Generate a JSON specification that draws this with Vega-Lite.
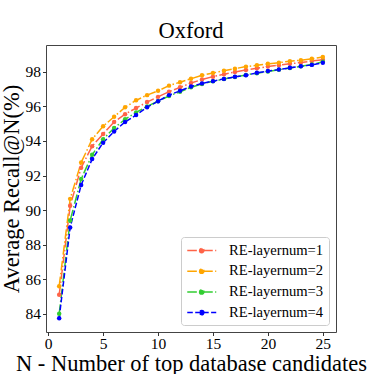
{
  "$schema": "https://vega.github.io/schema/vega-lite/v6.json",
  "width": 290,
  "height": 287,
  "autosize": "none",
  "padding": {"left": 46, "top": 45, "right": 38, "bottom": 42},
  "background": "white",
  "title": {"text": "Oxford", "font": "Liberation Serif", "fontSize": 22.5, "fontWeight": "normal", "color": "black", "baseline": "bottom", "frame": "group", "offset": -20},
  "config": {
    "view": {"stroke": "#444444", "strokeWidth": 1},
    "font": "Liberation Serif",
    "axis": {"grid": false, "domain": false, "labelFont": "Liberation Serif", "labelFontSize": 15.5, "labelColor": "black", "tickColor": "#333333", "tickSize": 3.5, "titleFont": "Liberation Serif", "titleFontSize": 22.5, "titleFontWeight": "normal", "titleColor": "black"}
  },
  "data": {"values": [
    {"N": 1, "RE-layernum=1": 85.1, "RE-layernum=2": 85.6, "RE-layernum=3": 84.0, "RE-layernum=4": 83.75},
    {"N": 2, "RE-layernum=1": 90.25, "RE-layernum=2": 90.65, "RE-layernum=3": 89.4, "RE-layernum=4": 89.0},
    {"N": 3, "RE-layernum=1": 92.45, "RE-layernum=2": 92.75, "RE-layernum=3": 91.8, "RE-layernum=4": 91.45},
    {"N": 4, "RE-layernum=1": 93.7, "RE-layernum=2": 94.1, "RE-layernum=3": 93.2, "RE-layernum=4": 92.95},
    {"N": 5, "RE-layernum=1": 94.4, "RE-layernum=2": 94.85, "RE-layernum=3": 94.1, "RE-layernum=4": 93.9},
    {"N": 6, "RE-layernum=1": 95.1, "RE-layernum=2": 95.4, "RE-layernum=3": 94.75, "RE-layernum=4": 94.55},
    {"N": 7, "RE-layernum=1": 95.55, "RE-layernum=2": 95.95, "RE-layernum=3": 95.25, "RE-layernum=4": 95.1},
    {"N": 8, "RE-layernum=1": 95.9, "RE-layernum=2": 96.35, "RE-layernum=3": 95.65, "RE-layernum=4": 95.5},
    {"N": 9, "RE-layernum=1": 96.25, "RE-layernum=2": 96.65, "RE-layernum=3": 96.0, "RE-layernum=4": 95.95},
    {"N": 10, "RE-layernum=1": 96.55, "RE-layernum=2": 96.9, "RE-layernum=3": 96.3, "RE-layernum=4": 96.3},
    {"N": 11, "RE-layernum=1": 96.85, "RE-layernum=2": 97.2, "RE-layernum=3": 96.6, "RE-layernum=4": 96.65},
    {"N": 12, "RE-layernum=1": 97.1, "RE-layernum=2": 97.4, "RE-layernum=3": 96.85, "RE-layernum=4": 96.9},
    {"N": 13, "RE-layernum=1": 97.35, "RE-layernum=2": 97.6, "RE-layernum=3": 97.1, "RE-layernum=4": 97.15},
    {"N": 14, "RE-layernum=1": 97.55, "RE-layernum=2": 97.8, "RE-layernum=3": 97.3, "RE-layernum=4": 97.33},
    {"N": 15, "RE-layernum=1": 97.72, "RE-layernum=2": 97.93, "RE-layernum=3": 97.45, "RE-layernum=4": 97.46},
    {"N": 16, "RE-layernum=1": 97.86, "RE-layernum=2": 98.06, "RE-layernum=3": 97.58, "RE-layernum=4": 97.59},
    {"N": 17, "RE-layernum=1": 97.99, "RE-layernum=2": 98.18, "RE-layernum=3": 97.7, "RE-layernum=4": 97.71},
    {"N": 18, "RE-layernum=1": 98.1, "RE-layernum=2": 98.3, "RE-layernum=3": 97.82, "RE-layernum=4": 97.8},
    {"N": 19, "RE-layernum=1": 98.2, "RE-layernum=2": 98.38, "RE-layernum=3": 97.92, "RE-layernum=4": 97.94},
    {"N": 20, "RE-layernum=1": 98.3, "RE-layernum=2": 98.46, "RE-layernum=3": 98.02, "RE-layernum=4": 98.04},
    {"N": 21, "RE-layernum=1": 98.38, "RE-layernum=2": 98.53, "RE-layernum=3": 98.12, "RE-layernum=4": 98.13},
    {"N": 22, "RE-layernum=1": 98.46, "RE-layernum=2": 98.61, "RE-layernum=3": 98.22, "RE-layernum=4": 98.23},
    {"N": 23, "RE-layernum=1": 98.54, "RE-layernum=2": 98.67, "RE-layernum=3": 98.32, "RE-layernum=4": 98.32},
    {"N": 24, "RE-layernum=1": 98.62, "RE-layernum=2": 98.75, "RE-layernum=3": 98.42, "RE-layernum=4": 98.4},
    {"N": 25, "RE-layernum=1": 98.7, "RE-layernum=2": 98.85, "RE-layernum=3": 98.58, "RE-layernum=4": 98.52}
  ]},
  "transform": [
    {"fold": ["RE-layernum=1", "RE-layernum=2", "RE-layernum=3", "RE-layernum=4"], "as": ["series", "recall"]}
  ],
  "encoding": {
    "x": {"field": "N", "type": "quantitative", "scale": {"domain": [-0.2, 26.2], "nice": false, "zero": false},
      "axis": {"values": [0, 5, 10, 15, 20, 25], "title": "N - Number of top database candidates", "labelFont": "Liberation Serif", "labelPadding": 1, "titlePadding": 0}},
    "y": {"field": "recall", "type": "quantitative", "scale": {"domain": [82.95, 99.55], "nice": false, "zero": false},
      "axis": {"values": [84, 86, 88, 90, 92, 94, 96, 98], "title": "Average Recall@N(%)", "labelFont": "Liberation Serif", "labelPadding": 2, "titlePadding": 2}},
    "color": {"field": "series", "type": "nominal",
      "scale": {"domain": ["RE-layernum=1", "RE-layernum=2", "RE-layernum=3", "RE-layernum=4"], "range": ["#ff6347", "#ffa500", "#32cd32", "#0000ff"]},
      "legend": {"title": null, "orient": "bottom-right", "offset": 7, "padding": 5.5, "fillColor": "rgba(255,255,255,0.8)", "strokeColor": "#cccccc", "cornerRadius": 3, "labelFont": "Liberation Serif", "labelFontSize": 14.6, "labelColor": "black", "symbolType": "M-1,0H3M1.3,0A0.3,0.3,0,1,1,0.7,0A0.3,0.3,0,1,1,1.3,0Z", "symbolSize": 210, "symbolStrokeWidth": 1.5, "rowPadding": 5.7, "labelOffset": 26.5}},
    "strokeDash": {"field": "series", "type": "nominal",
      "scale": {"domain": ["RE-layernum=1", "RE-layernum=2", "RE-layernum=3", "RE-layernum=4"], "range": [[9.6, 2.4, 1.5, 2.4], [9.6, 2.4, 1.5, 2.4], [9.6, 2.4, 1.5, 2.4], [5.55, 2.4]]}}
  },
  "layer": [
    {"mark": {"type": "line", "strokeWidth": 1.5}},
    {"mark": {"type": "point", "filled": true, "size": 20, "opacity": 1}}
  ]
}
